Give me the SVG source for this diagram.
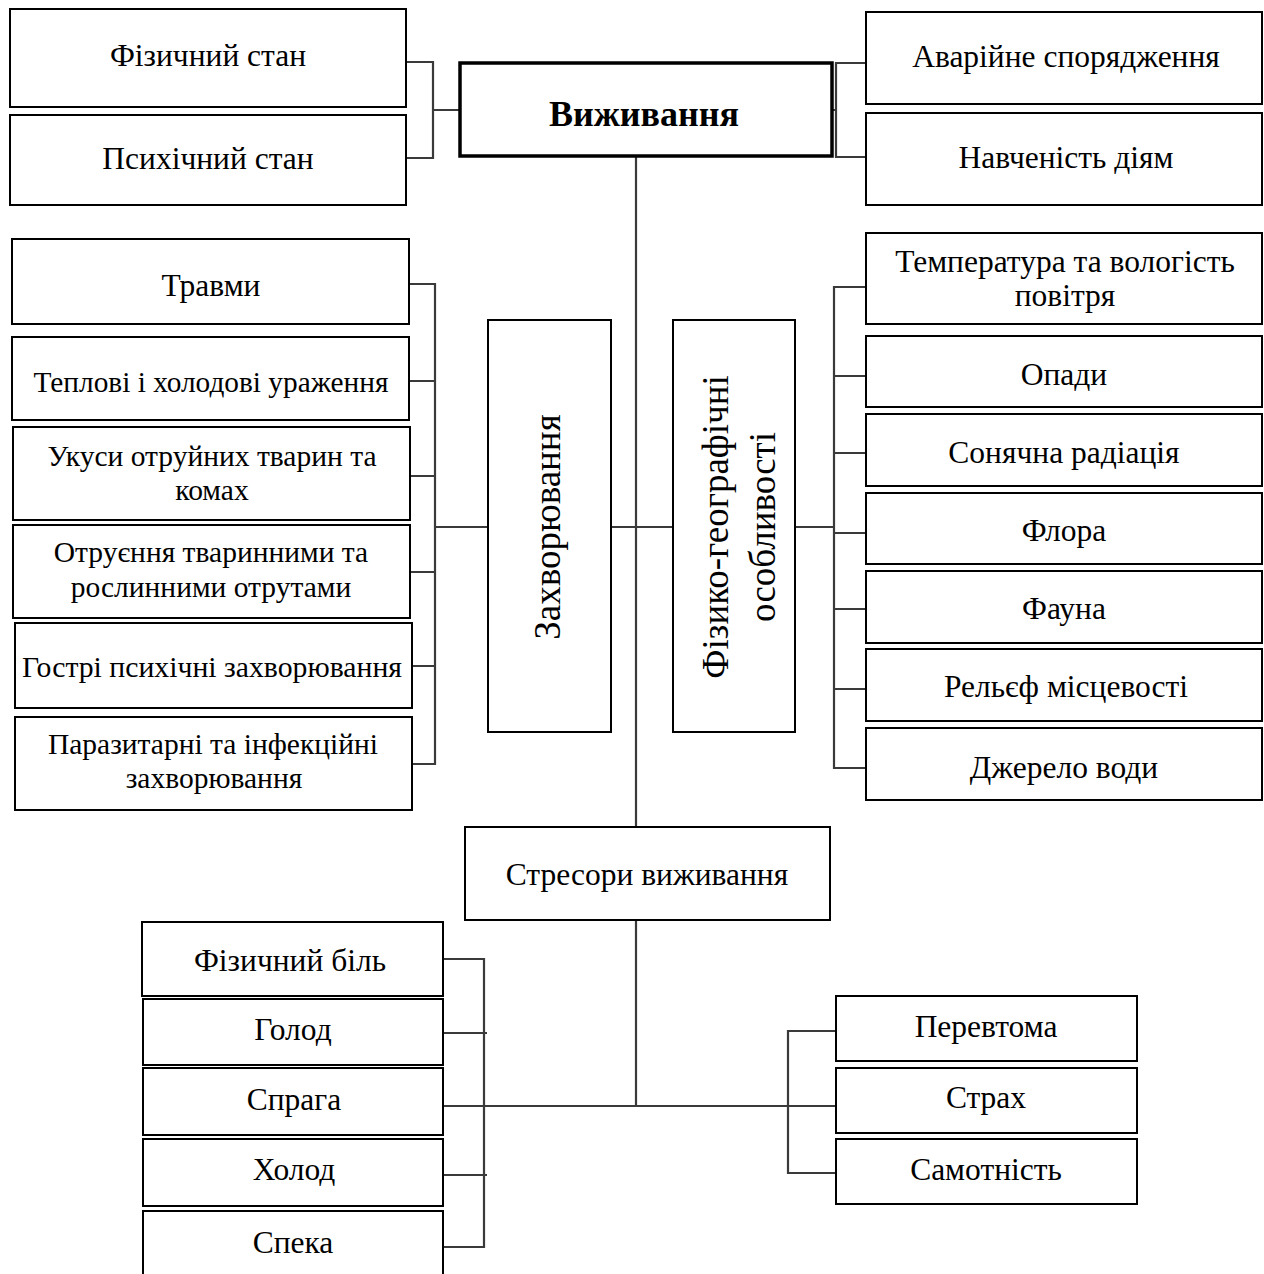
<svg xmlns="http://www.w3.org/2000/svg" width="1264" height="1274" viewBox="0 0 1264 1274">
<style>
rect.b{fill:#fff;stroke:#000;stroke-width:2}
rect.main{fill:#fff;stroke:#000;stroke-width:3.5}
text{font-family:"Liberation Serif","Times New Roman",serif;font-size:31.5px;fill:#000;text-anchor:middle}
text.l{font-size:29.5px}
text.v{font-size:37px}
text.bold{font-weight:bold;font-size:36px}
.c{fill:none;stroke:#3a3a3a;stroke-width:2.2}
</style>
<rect width="1264" height="1274" fill="#fff"/>
<g id="connectors">
<path class="c" d="M406,62 H433 V158 H406 M433,110 H460"/>
<path class="c" d="M832,110 H836 M866,63 H836 V157 H866"/>
<path class="c" d="M636,156 V827"/>
<path class="c" d="M409,284 H435 V764 H409 M409,381 H435 M409,476 H435 M409,572 H435 M409,666 H435 M435,527 H488"/>
<path class="c" d="M611,527 H673"/>
<path class="c" d="M795,527 H834 M866,287 H834 V768 H866 M834,376 H866 M834,453 H866 M834,533 H866 M834,609 H866 M834,689 H866"/>
<path class="c" d="M636,920 V1106"/>
<path class="c" d="M443,959 H484 V1247 H443 M443,1033 H487 M443,1175 H487 M443,1106 H836"/>
<path class="c" d="M836,1031 H788 V1173 H836"/>
</g>
<g id="n_phys"><rect class="b" x="10" y="9" width="396" height="98"/><text x="208" y="66">Фізичний стан</text></g>
<g id="n_psych"><rect class="b" x="10" y="115" width="396" height="90"/><text x="208" y="169">Психічний стан</text></g>
<g id="n_main"><rect class="main" x="460" y="63" width="372" height="93"/><text class="bold" x="644" y="126">Виживання</text></g>
<g id="n_equip"><rect class="b" x="866" y="12" width="396" height="92"/><text x="1066" y="67">Аварійне спорядження</text></g>
<g id="n_train"><rect class="b" x="866" y="113" width="396" height="92"/><text x="1066" y="168">Навченість діям</text></g>

<g id="n_trauma"><rect class="b" x="12" y="239" width="397" height="85"/><text x="211" y="296">Травми</text></g>
<g id="n_heat"><rect class="b" x="12" y="337" width="397" height="83"/><text class="l" x="211" y="392" textLength="355" lengthAdjust="spacingAndGlyphs">Теплові і холодові ураження</text></g>
<g id="n_bites"><rect class="b" x="13" y="427" width="397" height="93"/><text class="l" x="212" y="466">Укуси отруйних тварин та</text><text class="l" x="212" y="500">комах</text></g>
<g id="n_poison"><rect class="b" x="13" y="525" width="397" height="93"/><text class="l" x="211" y="562">Отруєння тваринними та</text><text class="l" x="211" y="597">рослинними отрутами</text></g>
<g id="n_acute"><rect class="b" x="15" y="623" width="397" height="85"/><text class="l" x="212" y="677" textLength="380" lengthAdjust="spacingAndGlyphs">Гострі психічні захворювання</text></g>
<g id="n_parasit"><rect class="b" x="15" y="717" width="397" height="93"/><text class="l" x="213" y="754">Паразитарні та інфекційні</text><text class="l" x="214" y="788">захворювання</text></g>

<g id="n_disease"><rect class="b" x="488" y="320" width="123" height="412"/><text class="v" transform="translate(560,527) rotate(-90)">Захворювання</text></g>
<g id="n_geo"><rect class="b" x="673" y="320" width="122" height="412"/><text class="v" transform="translate(728,527) rotate(-90)">Фізико-географічні</text><text class="v" transform="translate(775,527) rotate(-90)">особливості</text></g>

<g id="n_temp"><rect class="b" x="866" y="233" width="396" height="91"/><text x="1065" y="272">Температура та вологість</text><text x="1065" y="306">повітря</text></g>
<g id="n_precip"><rect class="b" x="866" y="336" width="396" height="71"/><text x="1064" y="385">Опади</text></g>
<g id="n_solar"><rect class="b" x="866" y="414" width="396" height="72"/><text x="1064" y="463">Сонячна радіація</text></g>
<g id="n_flora"><rect class="b" x="866" y="493" width="396" height="71"/><text x="1064" y="541">Флора</text></g>
<g id="n_fauna"><rect class="b" x="866" y="571" width="396" height="72"/><text x="1064" y="619">Фауна</text></g>
<g id="n_relief"><rect class="b" x="866" y="649" width="396" height="72"/><text x="1066" y="697">Рельєф місцевості</text></g>
<g id="n_water"><rect class="b" x="866" y="728" width="396" height="72"/><text x="1064" y="778">Джерело води</text></g>

<g id="n_stress"><rect class="b" x="465" y="827" width="365" height="93"/><text x="647" y="885">Стресори виживання</text></g>

<g id="n_pain"><rect class="b" x="142" y="922" width="301" height="74"/><text x="290" y="971">Фізичний біль</text></g>
<g id="n_hunger"><rect class="b" x="143" y="999" width="300" height="66"/><text x="293" y="1040">Голод</text></g>
<g id="n_thirst"><rect class="b" x="143" y="1068" width="300" height="67"/><text x="294" y="1110">Спрага</text></g>
<g id="n_cold"><rect class="b" x="143" y="1139" width="300" height="67"/><text x="294" y="1180">Холод</text></g>
<g id="n_heatb"><rect class="b" x="143" y="1211" width="300" height="90"/><text x="293" y="1253">Спека</text></g>

<g id="n_fatigue"><rect class="b" x="836" y="996" width="301" height="65"/><text x="986" y="1037">Перевтома</text></g>
<g id="n_fear"><rect class="b" x="836" y="1068" width="301" height="65"/><text x="986" y="1108">Страх</text></g>
<g id="n_lonely"><rect class="b" x="836" y="1139" width="301" height="65"/><text x="986" y="1180">Самотність</text></g>
</svg>
